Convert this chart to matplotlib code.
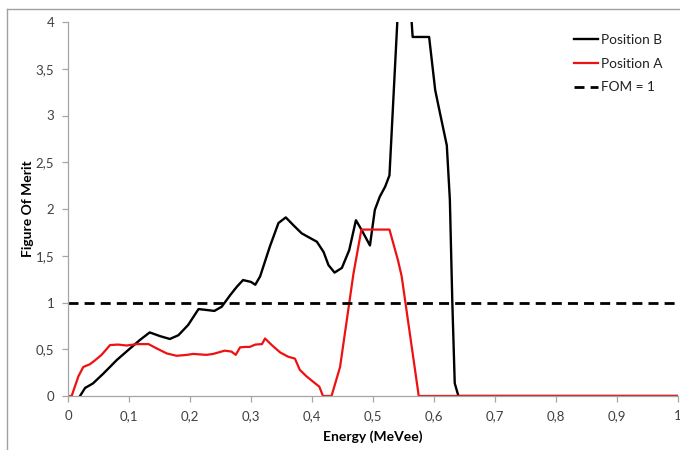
import matplotlib
matplotlib.use("Agg")
import matplotlib.pyplot as plt
from matplotlib.lines import Line2D
from matplotlib.ticker import FuncFormatter

# Position B (black)
bx = [0.0197, 0.028, 0.041, 0.058, 0.080, 0.102, 0.118, 0.134, 0.151, 0.167, 0.181, 0.197,
      0.214, 0.227, 0.240, 0.252, 0.266, 0.277, 0.287, 0.300, 0.307, 0.315, 0.331, 0.345,
      0.357, 0.369, 0.383, 0.394, 0.408, 0.419, 0.427, 0.437, 0.449, 0.461, 0.472, 0.481,
      0.495, 0.503, 0.511, 0.520, 0.527, 0.550, 0.565, 0.592, 0.602, 0.610, 0.621, 0.626,
      0.630, 0.634, 0.640, 1.0]
by = [0.0, 0.086, 0.135, 0.24, 0.385, 0.51, 0.60, 0.68, 0.64, 0.61, 0.65, 0.76,
      0.93, 0.92, 0.91, 0.955, 1.08, 1.17, 1.24, 1.22, 1.19, 1.28, 1.60, 1.85,
      1.91, 1.83, 1.74, 1.70, 1.65, 1.54, 1.40, 1.32, 1.37, 1.56, 1.88, 1.78,
      1.61, 1.99, 2.13, 2.24, 2.36, 5.3, 3.84, 3.84, 3.27, 3.02, 2.68, 2.10,
      1.01, 0.136, 0.0, 0.0]

# Position A (red)
rx = [0.0, 0.006, 0.017, 0.025, 0.036, 0.044, 0.055, 0.069, 0.082, 0.096, 0.113, 0.132,
      0.145, 0.162, 0.178, 0.195, 0.205, 0.227, 0.238, 0.257, 0.268, 0.275, 0.282, 0.290,
      0.298, 0.307, 0.318, 0.323, 0.334, 0.348, 0.361, 0.372, 0.380, 0.391, 0.405, 0.412,
      0.418, 0.432, 0.446, 0.457, 0.468, 0.481, 0.527, 0.541, 0.547, 0.575, 1.0]
ry = [0.0, 0.0, 0.21, 0.31, 0.34, 0.38, 0.44, 0.545, 0.55, 0.54, 0.555, 0.555,
      0.51, 0.455, 0.43, 0.44, 0.45, 0.44, 0.45, 0.485, 0.475, 0.44, 0.52, 0.525,
      0.525, 0.55, 0.555, 0.615, 0.545, 0.465, 0.42, 0.40, 0.28, 0.21, 0.136, 0.10,
      0.0, 0.0, 0.31, 0.81, 1.31, 1.78, 1.78, 1.45, 1.28, 0.0, 0.0]

# FOM = 1 reference
fom_x = [0.0, 1.0]
fom_y = [1.0, 1.0]

xticks = [0, 0.1, 0.2, 0.3, 0.4, 0.5, 0.6, 0.7, 0.8, 0.9, 1.0]
yticks = [0, 0.5, 1, 1.5, 2, 2.5, 3, 3.5, 4]

plt.rcParams['font.family'] = ['Lato', 'DejaVu Sans']

fig = plt.figure(figsize=(6.8, 4.5), dpi=100)
ax = fig.add_axes([68/680, 1-396/450, 610/680, 374/450])

ax.plot(bx, by, color='black', lw=1.7, label='Position B', solid_joinstyle='round')
ax.plot(rx, ry, color='#ee1111', lw=1.6, label='Position A', solid_joinstyle='round')
ax.plot(fom_x, fom_y, color='black', lw=2.0, ls=(0, (3.6, 2.2)), label='FOM = 1')

ax.set_xlim(0, 1)
ax.set_ylim(0, 4)
ax.set_xticks(xticks)
ax.set_yticks(yticks)

def fmt(v, pos):
    return ('%g' % v).replace('.', ',')

ax.xaxis.set_major_formatter(FuncFormatter(fmt))
ax.yaxis.set_major_formatter(FuncFormatter(fmt))

for s in ['top', 'right']:
    ax.spines[s].set_visible(False)
for s in ['left', 'bottom']:
    ax.spines[s].set_color('#a6a6a6')
    ax.spines[s].set_linewidth(0.9)
ax.tick_params(axis='both', colors='#a6a6a6', labelcolor='#404040', labelsize=9.5,
               length=4, width=0.9)
ax.tick_params(axis='x', pad=6)
ax.tick_params(axis='y', pad=6)

ax.set_xlabel('Energy (MeVee)', fontsize=10, fontweight='bold', labelpad=6)
ax.set_ylabel('Figure Of Merit', fontsize=10, fontweight='bold', labelpad=1)

leg = ax.legend(loc='upper right', bbox_to_anchor=(0.995, 1.0), frameon=False,
                fontsize=9.8, handlelength=1.8, handletextpad=0.2, labelspacing=0.85)
for t in leg.get_texts():
    t.set_color('#202020')

# outer chart frame (top and left visible)
fig.add_artist(Line2D([7/680, 7/680], [0, 1-9/450], transform=fig.transFigure,
                      color='#a0a0a0', lw=1.0))
fig.add_artist(Line2D([7/680, 1], [1-9/450, 1-9/450], transform=fig.transFigure,
                      color='#a0a0a0', lw=1.0))

fig.savefig('out.png', dpi=100)
